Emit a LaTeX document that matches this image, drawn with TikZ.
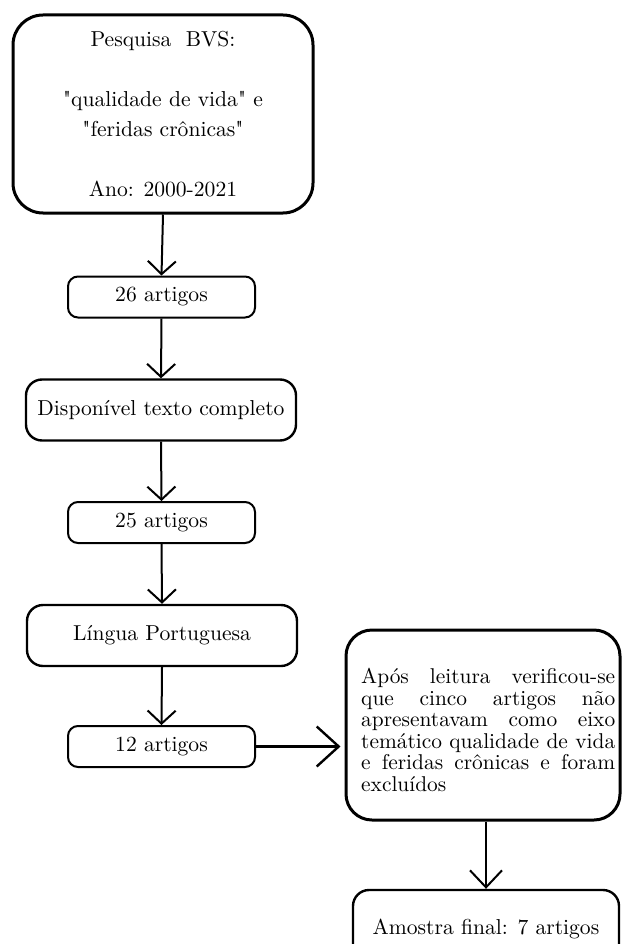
\documentclass[tikz,border=0pt]{standalone}
\usepackage{fontspec}
\newfontfamily\lmten{lmroman10-regular}[Extension=.otf]
\usetikzlibrary{arrows.meta}
\begin{document}
\begin{tikzpicture}[x=1pt,y=-1pt,
  every node/.style={font=\lmten\fontsize{21.6}{30}\selectfont, inner sep=0pt},
  bigbox/.style={draw, line width=3pt, rounded corners=30pt},
  midbox/.style={draw, line width=2.4pt, rounded corners=16pt, minimum width=270pt, minimum height=61pt},
  smallbox/.style={draw, line width=2pt, rounded corners=10pt, minimum width=187pt, minimum height=41pt},
  arr/.style={line width=2pt, -{Straight Barb[length=13pt,width=28pt,line width=2pt]}},
  harr/.style={line width=2.2pt, -{Straight Barb[length=22pt,width=40pt,line width=2.4pt]}},
  farr/.style={line width=2pt, -{Straight Barb[length=17pt,width=32pt,line width=2pt]}}]
\clip (0,0) rectangle (622,944);
\node[bigbox, minimum width=300pt, minimum height=198pt, align=center] (top) at (163,114)
  {Pesquisa\ \ BVS:\\ \mbox{}\\"qualidade de vida" e\\"feridas crônicas"\\ \mbox{}\\Ano: 2000-2021};
\node[smallbox] (a26) at (161.5,297) {26 artigos};
\node[midbox] (disp) at (161,410) {Disponível texto completo};
\node[smallbox] (a25) at (161.5,522.5) {25 artigos};
\node[midbox] (ling) at (162,635.5) {Língua Portuguesa};
\node[smallbox] (a12) at (161.5,746.5) {12 artigos};
\node[draw, line width=3pt, rounded corners=26pt, minimum width=274pt, minimum height=190pt] (excl) at (483,725) {};
\node[text width=254pt, align=justify, font=\lmten\fontsize{21.4}{21.6}\selectfont, anchor=north west] (excltxt) at (361,668)
  {\hyphenpenalty=10000\exhyphenpenalty=10000\tolerance=10000\hbadness=10000\hfuzz=5pt
   Após leitura verificou-se\linebreak que cinco artigos não\linebreak apresentavam como eixo\linebreak temático qualidade de vida\linebreak e feridas crônicas e foram\linebreak excluídos};
\node[draw, line width=2.4pt, rounded corners=16pt, minimum width=266pt, minimum height=78pt] (final) at (486,929) {Amostra final: 7 artigos};
\draw[arr] (top.south) -- (a26.north);
\draw[arr] (a26.south) -- (disp.north);
\draw[arr] (disp.south) -- (a25.north);
\draw[arr] (a25.south) -- (ling.north);
\draw[arr] (ling.south) -- (a12.north);
\draw[harr, shorten >=4pt] (a12.east) -- (a12.east -| excl.west);
\draw[farr] (excl.south -| final.north) -- (final.north);
\end{tikzpicture}
\end{document}
